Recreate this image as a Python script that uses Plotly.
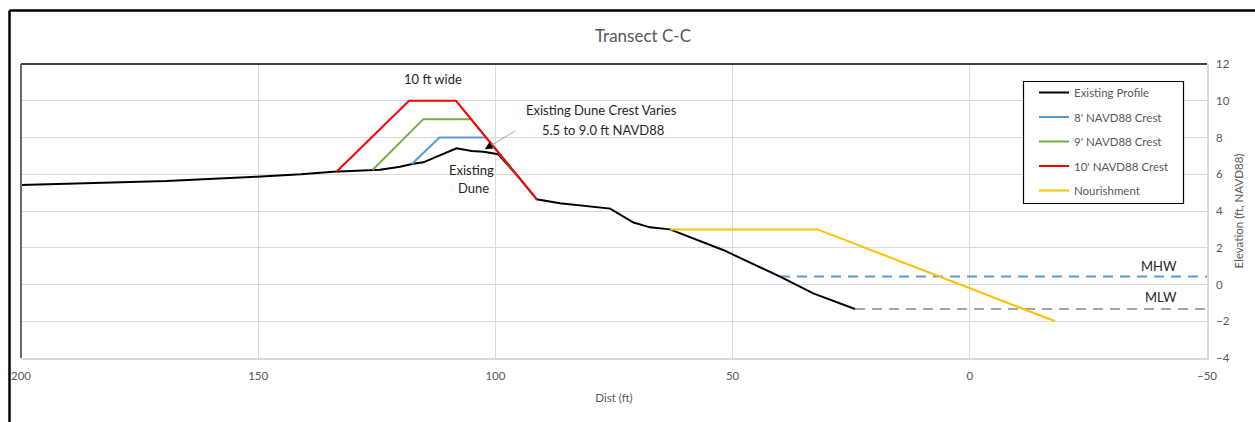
import plotly.graph_objects as go

# ---------------- data ----------------
existing_x = [200, 169.3, 150.3, 141, 134.2, 125.5, 124.3, 120.1, 117.6, 115.2, 108.2, 105, 102.5, 99.4,
              95.5, 91.3, 86.4, 75.8, 70.9, 67.4, 63.2, 52, 40, 33, 24.2]
existing_y = [5.42, 5.63, 5.87, 6.0, 6.14, 6.23, 6.24, 6.41, 6.56, 6.65, 7.41, 7.27, 7.23, 7.09,
              5.96, 4.64, 4.42, 4.13, 3.37, 3.11, 3.0, 1.88, 0.43, -0.48, -1.33]

crest8_x = [117.6, 111.8, 101.96, 91.3]
crest8_y = [6.56, 8, 8, 4.64]

crest9_x = [125.9, 115.2, 105.1, 91.3]
crest9_y = [6.23, 9, 9, 4.64]

crest10_x = [133.5, 118.2, 108.3, 91.3]
crest10_y = [6.14, 10, 10, 4.64]

nourish_x = [63.2, 32.1, -18]
nourish_y = [3.0, 3.0, -2.0]

mhw_x = [40, -50]
mhw_y = [0.43, 0.43]
mlw_x = [24.2, -50]
mlw_y = [-1.33, -1.33]

x_ticks = [200, 150, 100, 50, 0, -50]
y_ticks = [-4, -2, 0, 2, 4, 6, 8, 10, 12]

FONT = "Lato"
GRAY = "#595959"

fig = go.Figure()

def add(x, y, name, color, dash="solid", legend=True, width=2):
    fig.add_trace(go.Scatter(
        x=x, y=y, mode="lines", name=name,
        line=dict(color=color, width=width, dash=dash),
        showlegend=legend, legendgroup=name, hoverinfo="skip"))

add(mhw_x, mhw_y, "MHW", "#5b9bd5", dash="10px,7px", legend=False)
add(mlw_x, mlw_y, "MLW", "#a5a5a5", dash="10px,7px", legend=False)
add(existing_x, existing_y, "Existing Profile", "#000000")
add(crest8_x, crest8_y, "8' NAVD88 Crest", "#5b9bd5")
add(crest9_x, crest9_y, "9' NAVD88 Crest", "#70ad47")
add(crest10_x, crest10_y, "10' NAVD88 Crest", "#ff0000")
add(nourish_x, nourish_y, "Nourishment", "#ffc000")

afont = dict(family=FONT, size=13, color="#262626")
annotations = [
    dict(x=113.2, y=11.18, text="10 ft wide", showarrow=False, font=afont),
    dict(x=77.6, y=9.47, text="Existing Dune Crest Varies", showarrow=False, font=afont),
    dict(x=77.3, y=8.41, text="5.5 to 9.0 ft NAVD88", showarrow=False, font=afont),
    dict(x=105.0, y=6.23, text="Existing", showarrow=False, font=afont),
    dict(x=104.7, y=5.24, text="Dune", showarrow=False, font=afont),
    dict(x=-44, y=1.02, text="MHW", showarrow=False, xanchor="right", font=afont),
    dict(x=-44, y=-0.66, text="MLW", showarrow=False, xanchor="right", font=afont),
    # arrow shaft (gray) and head (black)
    dict(x=102.2, y=7.36, ax=95.5, ay=8.41, axref="x", ayref="y", text="",
         showarrow=True, arrowhead=0, arrowwidth=1, arrowcolor="#a6a6a6"),
    dict(x=102.2, y=7.36, ax=8, ay=-5, text="", showarrow=True, arrowhead=2,
         arrowsize=1, arrowwidth=1.5, arrowcolor="#000000"),
]

# frame lines
px_w, py_h = 1186, 294
def px2x(px):
    return (px - 21) / px_w
def py2y(py):
    return (358 - py) / py_h

shapes = [
    dict(type="line", xref="paper", yref="paper", x0=0, x1=1, y0=1, y1=1,
         line=dict(color="#404040", width=2)),
    dict(type="line", xref="paper", yref="paper", x0=0, x1=0, y0=0, y1=1,
         line=dict(color="#6a6a6a", width=2)),
    dict(type="line", xref="paper", yref="paper", x0=px2x(9.5), x1=px2x(9.5),
         y0=-0.3, y1=py2y(10.5), line=dict(color="#000000", width=2.5)),
    dict(type="line", xref="paper", yref="paper", x0=px2x(9.5), x1=1.1,
         y0=py2y(10.5), y1=py2y(10.5), line=dict(color="#000000", width=2.5)),
    # legend box
    dict(type="rect", xref="paper", yref="paper", x0=px2x(1023.5), x1=px2x(1183.5),
         y0=py2y(203.5), y1=py2y(81.5), line=dict(color="#000000", width=1.2),
         fillcolor="white", layer="above"),
]

fig.update_layout(
    width=1255, height=422,
    margin=dict(l=21, r=48, t=64, b=64, pad=0),
    paper_bgcolor="white", plot_bgcolor="white",
    font=dict(family=FONT, color=GRAY),
    title=dict(text="Transect C-C", x=643 / 1255, xanchor="center",
               y=1 - 36 / 422, yanchor="middle",
               font=dict(family=FONT, size=17, color=GRAY)),
    xaxis=dict(range=[200, -50], tickvals=x_ticks, showgrid=True, gridcolor="#d9d9d9",
               gridwidth=1, showline=True, linecolor="#d9d9d9", linewidth=1.5, zeroline=False,
               ticks="", tickfont=dict(family=FONT, size=11.5, color=GRAY),
               ticklabelstandoff=6, automargin=False,
               title=dict(text="Dist (ft)", font=dict(family=FONT, size=11.5, color=GRAY),
                          standoff=13)),
    yaxis=dict(range=[-4, 12], tickvals=y_ticks, side="right", showgrid=True,
               gridcolor="#d9d9d9", gridwidth=1, showline=True, linecolor="#d9d9d9",
               linewidth=1.5, zeroline=False, ticks="", automargin=False,
               tickfont=dict(family=FONT, size=11.5, color=GRAY), ticklabelstandoff=5,
               title=dict(text="Elevation (ft, NAVD88)",
                          font=dict(family=FONT, size=11.5, color=GRAY), standoff=6)),
    legend=dict(x=px2x(1034), y=py2y(78), xanchor="left", yanchor="top",
                borderwidth=0, bgcolor="rgba(0,0,0,0)",
                font=dict(family=FONT, size=11.5, color=GRAY),
                tracegroupgap=5.5, itemwidth=30),
    annotations=annotations,
    shapes=shapes,
)

fig.write_html("out.html")
